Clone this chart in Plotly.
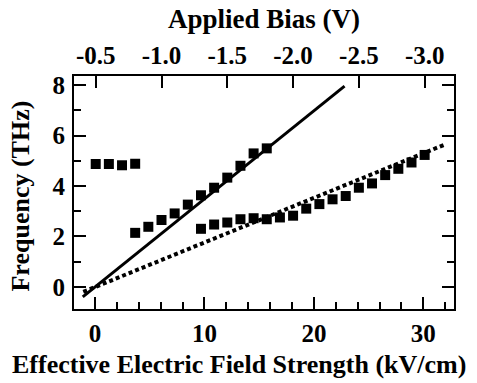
import plotly.graph_objects as go

# Upper branch (applied bias in V, frequency in THz)
bias_up_a = [-0.5, -0.6, -0.7, -0.8]
freq_up_a = [4.87, 4.87, 4.82, 4.88]
bias_up_b = [-0.8, -0.9, -1.0, -1.1, -1.2, -1.3, -1.4, -1.5, -1.6, -1.7, -1.8]
freq_up_b = [2.14, 2.38, 2.65, 2.91, 3.26, 3.63, 3.93, 4.33, 4.80, 5.29, 5.49]
# Lower branch
bias_low = [-1.3, -1.4, -1.5, -1.6, -1.7, -1.8, -1.9, -2.0, -2.1, -2.2, -2.3, -2.4,
            -2.5, -2.6, -2.7, -2.8, -2.9, -3.0]
freq_low = [2.30, 2.47, 2.55, 2.68, 2.72, 2.68, 2.75, 2.82, 3.10, 3.28, 3.47, 3.60,
            3.93, 4.10, 4.43, 4.68, 4.93, 5.23]
# Fit lines (field kV/cm, frequency THz) endpoints
fit_solid_x = [-1.12, 22.8]
fit_solid_y = [-0.40, 7.96]
fit_dot_x = [-1.07, 31.9]
fit_dot_y = [-0.20, 5.63]

# Tick labels
bias_ticks = [-0.5, -1.0, -1.5, -2.0, -2.5, -3.0]
bias_ticktext = ["-0.5", "-1.0", "-1.5", "-2.0", "-2.5", "-3.0"]
field_ticks = [0, 10, 20, 30]
freq_ticks = [0, 2, 4, 6, 8]

FONT = "Liberation Serif"
fig = go.Figure()

fig.add_trace(go.Scatter(x=fit_solid_x, y=fit_solid_y, mode="lines",
                         line=dict(color="black", width=3), showlegend=False))
fig.add_trace(go.Scatter(x=fit_dot_x, y=fit_dot_y, mode="lines",
                         line=dict(color="black", width=4, dash="4px,3px"), showlegend=False))
for bx, fy in [(bias_up_a, freq_up_a), (bias_up_b, freq_up_b), (bias_low, freq_low)]:
    fig.add_trace(go.Scatter(x=bx, y=fy, xaxis="x2", yaxis="y", mode="markers",
                             marker=dict(symbol="square", size=10, color="black"),
                             showlegend=False))

tickfont = dict(family=FONT, size=25, color="black", weight="bold")
titlefont = dict(family=FONT, size=26, color="black", weight="bold")

fig.update_layout(
    width=477, height=383,
    margin=dict(l=74, r=23, t=76, b=74),
    paper_bgcolor="white", plot_bgcolor="white",
    xaxis=dict(range=[-1.92, 32.8], tickvals=field_ticks, ticks="inside",
               ticklen=12, tickwidth=2, tickcolor="black", ticklabelstandoff=1,
               minor=dict(dtick=2, tick0=0, ticks="inside", ticklen=7, tickwidth=2, tickcolor="black"),
               showline=True, linewidth=2, linecolor="black", showgrid=False, zeroline=False,
               tickfont=tickfont),
    xaxis2=dict(range=[-0.335, -3.223], overlaying="x", side="top",
                tickvals=bias_ticks, ticktext=bias_ticktext,
                ticks="inside", ticklen=12, tickwidth=2, tickcolor="black", ticklabelstandoff=0,
                showline=True, linewidth=2, linecolor="black", showgrid=False, zeroline=False,
                tickfont=tickfont,
                title=dict(text="Applied Bias (V)",
                           font=dict(family=FONT, size=27, color="black", weight="bold"), standoff=6)),
    yaxis=dict(range=[-0.88, 8.36], tickvals=freq_ticks, ticks="inside", ticklen=12, tickwidth=2,
               tickcolor="black", mirror="ticks", ticklabelstandoff=2,
               minor=dict(dtick=1, tick0=0, ticks="inside", ticklen=7, tickwidth=2, tickcolor="black"),
               showline=True, linewidth=2, linecolor="black", showgrid=False, zeroline=False,
               tickfont=tickfont),
    annotations=[
        dict(text="Effective Electric Field Strength (kV/cm)", xref="paper", yref="paper",
             x=0.433, y=-0.240, xanchor="center", yanchor="middle", showarrow=False,
             font=titlefont),
        dict(text="Frequency (THz)", xref="paper", yref="paper",
             x=-0.1395, y=0.487, xanchor="center", yanchor="middle", showarrow=False,
             textangle=-90, font=titlefont),
    ],
)

fig.write_html("out.html")
